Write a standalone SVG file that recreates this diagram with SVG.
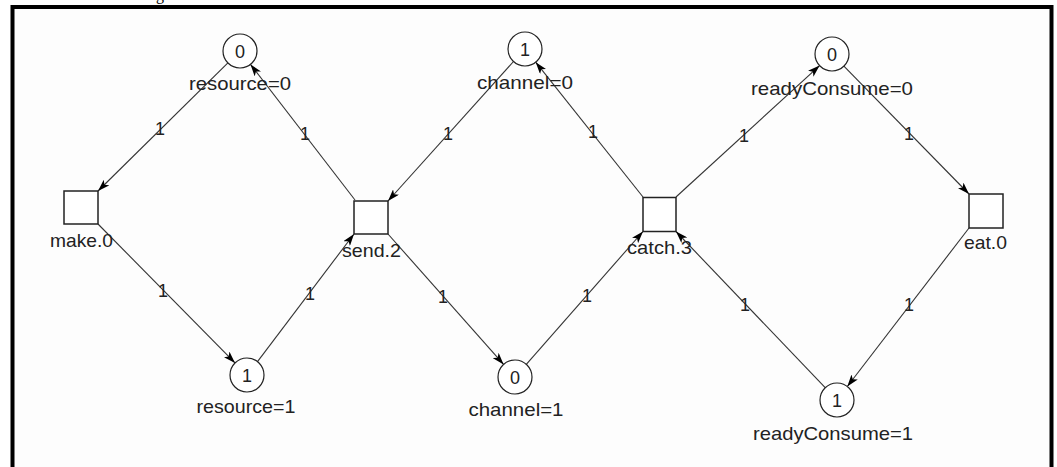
<svg xmlns="http://www.w3.org/2000/svg" width="1057" height="467" viewBox="0 0 1057 467">
  <defs>
    <marker id="arrow" viewBox="0 0 12 8" refX="12" refY="4" markerWidth="12" markerHeight="8" markerUnits="userSpaceOnUse" orient="auto">
      <path d="M0,0 L12,4 L0,8 L3,4 Z" fill="#000"/>
    </marker>
    <style>
      .place { fill: #fff; stroke: #222; stroke-width: 1.2; }
      .trans { fill: #fff; stroke: #222; stroke-width: 1.5; }
      .arc { stroke: #333; stroke-width: 1.1; fill: none; marker-end: url(#arrow); }
      .lbl { font-family: "Liberation Sans", Arial, sans-serif; font-size: 19px; fill: #222; text-anchor: middle; }
      .tok { font-family: "Liberation Sans", Arial, sans-serif; font-size: 18px; fill: #222; text-anchor: middle; }
      .w { font-family: "Liberation Sans", Arial, sans-serif; font-size: 18px; fill: #222; text-anchor: middle; }
    </style>
  </defs>

  <rect x="0" y="0" width="1057" height="467" fill="#fff"/>
  <text x="160" y="-0.5" font-family="Liberation Serif, serif" font-size="16" fill="#000" text-anchor="middle">g</text>
  <rect x="12.5" y="7" width="1039" height="470" fill="#fdfdfd" stroke="#000" stroke-width="4"/>

  <!-- arcs -->
  <g id="arcs">
    <line class="arc" x1="227.9" y1="62.9" x2="98" y2="191"/>
    <line class="arc" x1="355" y1="200" x2="250.5" y2="64.4"/>
    <line class="arc" x1="513.5" y1="61.5" x2="388" y2="201"/>
    <line class="arc" x1="643" y1="197" x2="535.7" y2="62.2"/>
    <line class="arc" x1="676" y1="197" x2="819.6" y2="65.6"/>
    <line class="arc" x1="843.9" y1="66.1" x2="969" y2="194"/>
    <line class="arc" x1="98" y1="224" x2="235" y2="362.9"/>
    <line class="arc" x1="257.5" y1="361.6" x2="354" y2="234"/>
    <line class="arc" x1="388" y1="234" x2="503.6" y2="364.4"/>
    <line class="arc" x1="526.3" y1="364.3" x2="643" y2="231.5"/>
    <line class="arc" x1="825.2" y1="387.7" x2="676" y2="231.5"/>
    <line class="arc" x1="969" y1="228" x2="847.3" y2="386.5"/>
    <!-- arc weights -->
    <text class="w" x="160" y="135">1</text>
    <text class="w" x="305" y="140">1</text>
    <text class="w" x="448" y="140">1</text>
    <text class="w" x="593" y="138">1</text>
    <text class="w" x="744" y="142">1</text>
    <text class="w" x="909" y="140">1</text>
    <text class="w" x="163" y="297">1</text>
    <text class="w" x="310" y="300">1</text>
    <text class="w" x="443" y="303">1</text>
    <text class="w" x="587" y="302">1</text>
    <text class="w" x="745" y="311">1</text>
    <text class="w" x="909" y="311">1</text>
  </g>

  <!-- places -->
  <g id="resource0">
    <circle class="place" cx="240" cy="51" r="17"/>
    <text class="tok" x="240" y="57.5">0</text>
    <text class="lbl" x="240" y="90" textLength="102" lengthAdjust="spacingAndGlyphs">resource=0</text>
  </g>
  <g id="channel0">
    <circle class="place" cx="525" cy="49" r="17"/>
    <text class="tok" x="525" y="55.5">1</text>
    <text class="lbl" x="525" y="89" textLength="96" lengthAdjust="spacingAndGlyphs">channel=0</text>
  </g>
  <g id="readyConsume0">
    <circle class="place" cx="832" cy="54" r="17"/>
    <text class="tok" x="832" y="60.5">0</text>
    <text class="lbl" x="832" y="95" textLength="162" lengthAdjust="spacingAndGlyphs">readyConsume=0</text>
  </g>
  <g id="resource1">
    <circle class="place" cx="247" cy="375" r="17"/>
    <text class="tok" x="247" y="381.5">1</text>
    <text class="lbl" x="246" y="413" textLength="99" lengthAdjust="spacingAndGlyphs">resource=1</text>
  </g>
  <g id="channel1">
    <circle class="place" cx="515" cy="377" r="17"/>
    <text class="tok" x="515" y="383.5">0</text>
    <text class="lbl" x="516" y="416" textLength="95" lengthAdjust="spacingAndGlyphs">channel=1</text>
  </g>
  <g id="readyConsume1">
    <circle class="place" cx="837" cy="400" r="17"/>
    <text class="tok" x="837" y="406.5">1</text>
    <text class="lbl" x="833" y="440" textLength="160" lengthAdjust="spacingAndGlyphs">readyConsume=1</text>
  </g>

  <!-- transitions -->
  <g id="make0">
    <rect class="trans" x="64" y="191" width="34" height="33"/>
    <text class="lbl" x="81.5" y="247" textLength="63" lengthAdjust="spacingAndGlyphs">make.0</text>
  </g>
  <g id="send2">
    <rect class="trans" x="354" y="201" width="34" height="33"/>
    <text class="lbl" x="371.5" y="256.5" textLength="59" lengthAdjust="spacingAndGlyphs">send.2</text>
  </g>
  <g id="catch3">
    <rect class="trans" x="643" y="197.5" width="33" height="34"/>
    <text class="lbl" x="659.5" y="254" textLength="65" lengthAdjust="spacingAndGlyphs">catch.3</text>
  </g>
  <g id="eat0">
    <rect class="trans" x="969" y="194" width="34" height="34"/>
    <text class="lbl" x="985.5" y="249" textLength="43" lengthAdjust="spacingAndGlyphs">eat.0</text>
  </g>
</svg>
